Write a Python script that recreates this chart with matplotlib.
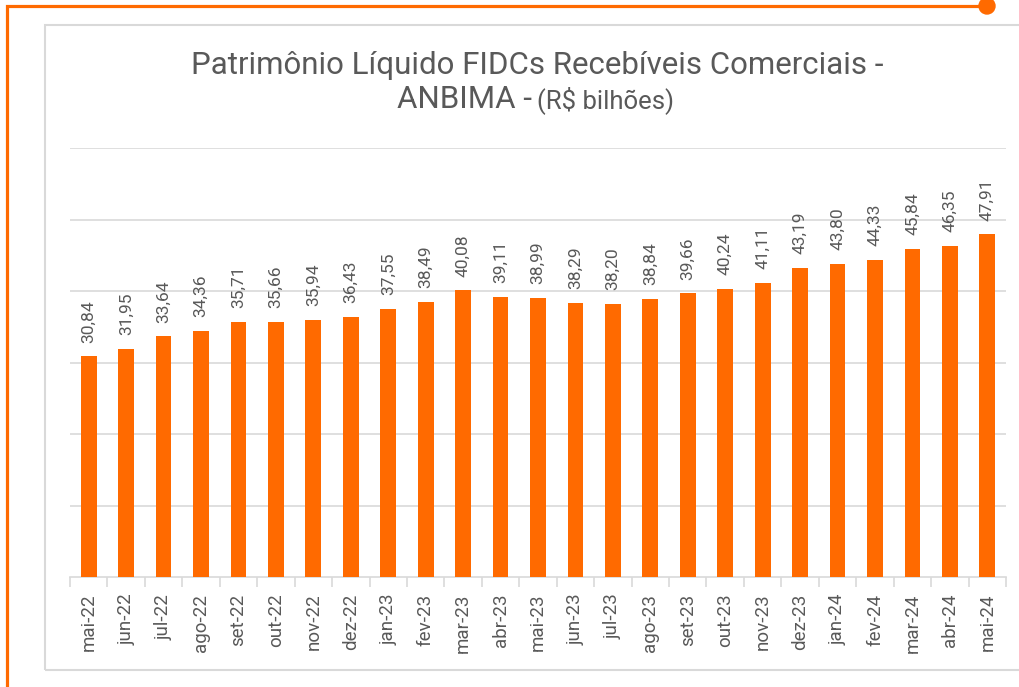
import matplotlib.pyplot as plt
from matplotlib.lines import Line2D
from matplotlib.patches import Rectangle, Circle
import numpy as np

# dados do gráfico (R$ bilhões)
meses = ["mai-22", "jun-22", "jul-22", "ago-22", "set-22", "out-22", "nov-22",
         "dez-22", "jan-23", "fev-23", "mar-23", "abr-23", "mai-23", "jun-23",
         "jul-23", "ago-23", "set-23", "out-23", "nov-23", "dez-23", "jan-24",
         "fev-24", "mar-24", "abr-24", "mai-24"]
patrimonio = [30.84, 31.95, 33.64, 34.36, 35.71, 35.66, 35.94, 36.43, 37.55,
              38.49, 40.08, 39.11, 38.99, 38.29, 38.20, 38.84, 39.66, 40.24,
              41.11, 43.19, 43.80, 44.33, 45.84, 46.35, 47.91]

LARANJA = "#ff6a00"
CINZA = "#595959"
GRADE = "#d9d9d9"
FONTE = "Roboto"

plt.rcParams["font.family"] = [FONTE, "DejaVu Sans"]

W, H = 1019, 687
fig = plt.figure(figsize=(W / 100, H / 100), dpi=100)

# moldura laranja e painel cinza (coordenadas em pixels)
def px(x, y):
    return x / W, 1 - y / H

x0, y0 = px(7, 687)
x1, y1 = px(7, 6)
x2, y2 = px(987, 6)
fig.add_artist(Line2D([x0, x1, x2], [y0, y1, y2], color=LARANJA, lw=2.3,
                      solid_joinstyle="miter", transform=fig.transFigure))
fig.add_artist(Circle((987, H - 6), 8, color=LARANJA, transform=None))
rx, ry = px(45, 670)
fig.add_artist(Rectangle((rx, ry), 1.1, (670 - 25) / H, fill=False,
                         edgecolor=GRADE, lw=1.5, transform=fig.transFigure))

# eixo
left, right = 70 / W, 1006 / W
bottom, top = 1 - 577 / H, 1 - 148 / H
ax = fig.add_axes([left, bottom, right - left, top - bottom])

x = np.arange(len(meses))
bars = ax.bar(x, patrimonio, width=0.42, color=LARANJA, zorder=3)

for xi, v in zip(x, patrimonio):
    ax.annotate(f"{v:.2f}".replace(".", ","), (xi, v), xytext=(0, 10),
                textcoords="offset points", rotation=90, ha="center",
                va="bottom", fontsize=12.5, color=CINZA)

ax.set_xlim(-0.5, len(meses) - 0.5)
ax.set_ylim(0, 60)
ax.set_yticks(np.arange(10, 61, 10))
ax.yaxis.grid(True, color=GRADE, lw=1.2, zorder=0)
ax.tick_params(axis="y", length=0, labelleft=False)

ax.set_xticks(x)
ax.set_xticklabels(meses, rotation=90, fontsize=13.5, color=CINZA)
ax.set_xticks(np.arange(-0.5, len(meses), 1), minor=True)
ax.tick_params(axis="x", which="major", length=0, pad=12)
ax.tick_params(axis="x", which="minor", length=7, color=GRADE, width=1.2)

for s in ["top", "right", "left"]:
    ax.spines[s].set_visible(False)
ax.spines["bottom"].set_color(GRADE)
ax.spines["bottom"].set_linewidth(1.2)

# título
tx, ty = px(537, 74)
fig.text(tx, ty, "Patrimônio Líquido FIDCs Recebíveis Comerciais -",
         ha="center", va="baseline", fontsize=22.5, color=CINZA)
ax_, ty2 = px(532, 108)
fig.text(ax_, ty2, "ANBIMA -", ha="right", va="baseline", fontsize=22.5,
         color=CINZA)
bx, _ = px(537, 108)
fig.text(bx, ty2, "(R$ bilhões)", ha="left", va="baseline", fontsize=18.5,
         color=CINZA)

fig.savefig("out.png", dpi=100, facecolor="white")
